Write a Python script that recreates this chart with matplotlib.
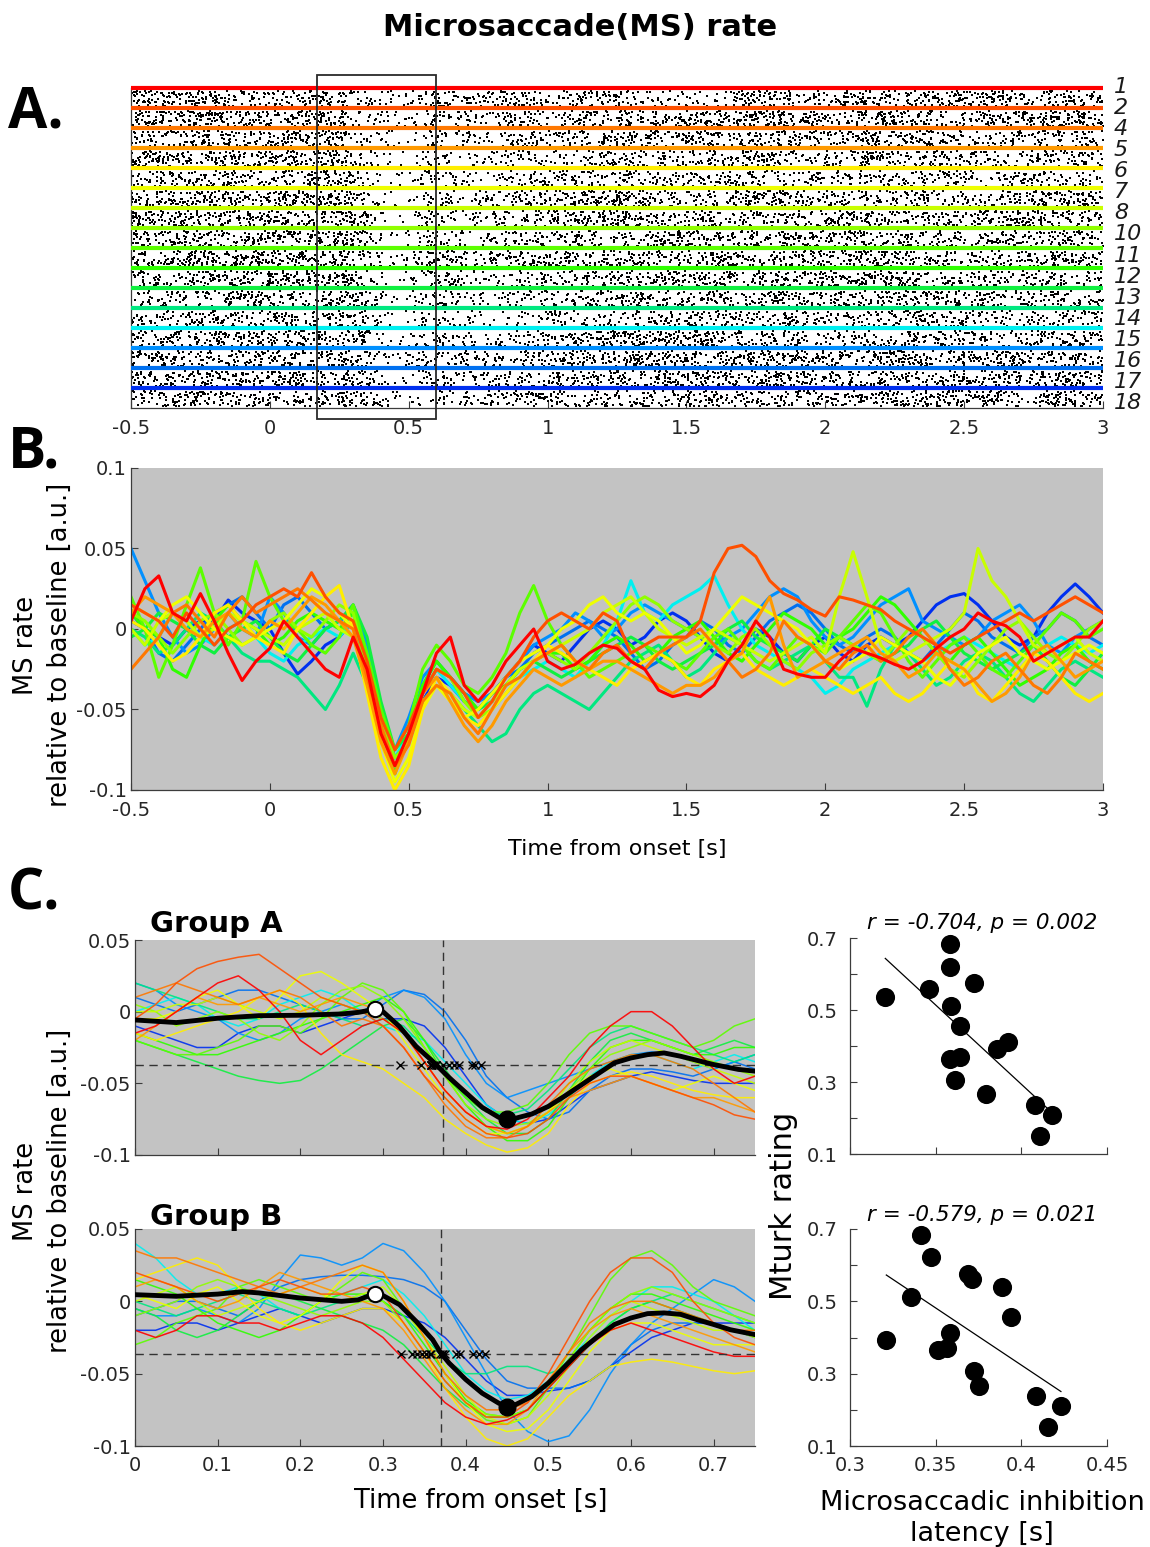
import numpy as np
import matplotlib
matplotlib.use('Agg')
import matplotlib.pyplot as plt
from matplotlib.patches import Rectangle

plt.rcParams['font.family'] = ['DejaVu Sans']
plt.rcParams['axes.unicode_minus'] = False

W, H = 1150, 1547

# subjects, top to bottom in the raster
subject_ids = ['1', '2', '4', '5', '6', '7', '8', '10', '11', '12', '13', '14', '15', '16', '17', '18']
subject_colors = ['#ff0000', '#ff5000', '#ff7800', '#ff9a00', '#ffee00', '#eeff00', '#c8ff00', '#90ff00',
                  '#5cff00', '#30ff00', '#10f040', '#00e880', '#00f0f0', '#0090ff', '#0070f0', '#0030f0']

# panel B: MS rate relative to baseline (x 1e-3), one value every 0.05 s from -0.5 to 3 s
rate_t = np.round(np.arange(-0.5, 3.0001, 0.05), 3)
rate_b = [
    [5, 25, 33, 10, 5, 22, 5, -15, -32, -20, -12, 5, -5, -15, -25, -30, -5,
     -25, -65, -85, -65, -40, -15, -5, -35, -45, -35, -20, -10, 0, -20,
     -25, -22, -15, -10, -12, -20, -25, -38, -42, -40, -42, -35, -20, -10, 5, -5, -25, -28, -30, -30,
     -20, -12, -15, -18, -22, -25, -20, -12, -5, 0, 10, 5, 2, -5, -20, -15, -10, -5, -5, 5],
    [15, 10, 5, -5, 10, 0, -10, 0, 5, 15, 20, 25, 20, 35, 20, 10, 5,
     -20, -55, -75, -60, -40, -25, -30, -40, -55, -45, -30, -20, -5, 5,
     10, 5, 0, 10, 5, -15, -10, -5, -5, -5, 5, 35, 50, 52, 45, 30, 22, 18, 12, 8,
     20, 18, 15, 12, 5, 0, -5, -10, -15, -10, -5, 0, 5, 10, 5, 10, 15, 20, 15, 10],
    [-25, -15, -5, 10, 15, 5, -5, 10, 20, 10, 15, 20, 25, 18, 10, 5, 0,
     -30, -60, -85, -72, -45, -35, -40, -55, -65, -50, -35, -30, -20, -15,
     -10, -20, -25, -15, -10, -20, -25, -15, -10, -5, 0, -10, -20, -30, -25, -15, 5, -5, -10, -20,
     -25, -15, -10, -20, -15, -5, 0, -10, -25, -35, -30, -20, -15, -25, -35, -40, -30, -15, -20, -25],
    [10, 20, 15, 10, 0, -5, 5, 10, 0, -5, 5, 0, 10, 20, 15, 5, -5,
     -35, -70, -90, -70, -40, -30, -45, -60, -70, -60, -45, -35, -25, -30,
     -35, -30, -25, -20, -20, -25, -30, -35, -40, -35, -35, -30, -20, -15, 5, 20, -10, -30, -25, -20,
     -15, -10, -5, -15, -20, -30, -25, -15, -20, -25, -35, -45, -40, -30, -15, -10, -20, -30, -25, -20],
    [5, 0, -10, -20, -15, -5, 10, 15, 5, -5, -10, -15, 0, 10, 20, 27, 0,
     -40, -80, -100, -85, -50, -30, -40, -55, -60, -50, -40, -30, -20, -10,
     -15, -20, -25, -30, -35, -25, -20, -15, -20, -30, -35, -25, -20, -15, -25, -30, -35, -30, -25, -30,
     -35, -40, -35, -30, -40, -45, -40, -30, -20, -25, -40, -45, -35, -25, -15, -20, -30, -40, -45, -40],
    [15, 10, 5, 15, 20, 10, 0, -5, -10, -5, 0, 5, 15, 25, 20, 10, 0,
     -35, -70, -95, -80, -50, -35, -45, -55, -50, -40, -30, -20, -15, -10,
     0, 5, 15, 20, 10, 5, 10, 5, -5, -15, -10, 0, 10, 20, 15, 10, 5, 0, -10, -20,
     -25, -20, -15, -5, -10, -15, -20, -30, -35, -25, -15, -10, -5, -15, -20, -25, -20, -15, -10, -15],
    [0, -10, 5, 10, 5, -5, 0, 10, 5, 0, -5, -10, 0, 5, 10, 0, -5,
     -30, -65, -85, -70, -45, -35, -40, -50, -55, -45, -35, -25, -20, -15,
     -10, -5, 0, 10, 15, 20, 10, 0, -5, -10, -5, 0, -5, -10, -15, -20, -15, -10, -5, -15,
     20, 48, 20, -10, -20, -15, -10, -5, 0, 10, 50, 30, 20, 5, -10, -15, -10, -5, -15, -20],
    [10, 5, -5, -15, -5, 5, 10, 0, -10, -5, 5, 10, 0, -5, 5, 15, 10,
     -25, -55, -80, -70, -40, -25, -30, -45, -55, -50, -40, -30, -20, -15,
     -20, -25, -15, -5, 5, 15, 20, 15, 5, 0, -5, -10, -15, -5, 0, -10, -20, -25, -15, -10,
     -5, -10, -15, -20, -10, 0, -5, -15, -25, -30, -20, -10, 0, 5, -5, -15, -20, -10, 0, 5],
    [20, 0, -30, -10, 15, 38, 10, -10, 5, 42, 20, 5, 0, -10, -15, -5, 15,
     -15, -50, -75, -60, -25, -10, -20, -35, -40, -30, -15, 10, 27, 5,
     -10, -20, -30, -25, -20, -15, -10, -15, -20, -25, -15, -5, 0, -10, -20, -25, -15, -5, -10, -15,
     -5, 5, 15, 10, -5, -20, -30, -20, -10, -5, -15, -25, -30, -20, -10, 0, 10, 5, -5, 0],
    [10, 0, -5, -25, -30, -10, 5, 15, 5, 0, -10, -5, 5, 10, 5, 0, 10,
     -20, -60, -90, -65, -35, -20, -30, -40, -50, -40, -35, -25, -20, -15,
     -15, -25, -20, -10, -5, -10, -20, -15, -5, 0, 5, -5, -15, -20, -10, 0, 10, 5, 0, -10,
     -5, 0, 10, 20, 15, 5, -5, -15, -20, -10, -5, -15, -25, -35, -30, -25, -15, -10, -20, -25],
    [-5, 0, 10, 5, 0, -10, -15, -5, 0, 5, -5, -15, -20, -10, 0, 5, 15,
     -5, -45, -75, -65, -35, -20, -30, -45, -50, -45, -35, -25, -20, -25,
     -30, -25, -20, -15, -10, -5, -10, -20, -25, -20, -15, -10, 0, 5, -5, -10, -15, -20, -10, 0,
     -5, -10, -15, -20, -15, -10, 0, 5, -5, -15, -20, -25, -20, -15, -10, -20, -30, -35, -25, -15],
    [0, -5, -15, -10, 0, 10, 5, -5, -15, -20, -20, -25, -30, -40, -50, -35, -15,
     -35, -60, -80, -70, -45, -35, -40, -50, -60, -70, -65, -50, -40, -35,
     -40, -45, -50, -40, -30, -20, -15, -10, -20, -30, -25, -15, -5, -10, -20, -25, -20, -15, -10, -20,
     -30, -30, -48, -25, -10, -15, -25, -35, -30, -20, -15, -20, -30, -40, -45, -35, -25, -20, -25, -30],
    [0, -10, -5, 10, 5, -5, -10, 0, 5, -5, -15, -20, -10, -5, 0, -5, 5,
     -25, -60, -80, -65, -40, -25, -35, -45, -50, -45, -35, -30, -25, -20,
     -25, -30, -20, -10, 5, 30, 10, 5, 15, 20, 25, 33, 15, 0, -10, -15, -20, -25, -30, -40,
     -35, -25, -20, -15, -10, -15, -20, -15, -10, -5, -10, -15, -20, -25, -15, -10, -5, -10, -15, -10],
    [50, 30, 10, -5, -15, -10, 0, 10, 0, -5, 20, 10, -5, -10, 0, 5, 15,
     -10, -55, -75, -55, -30, -20, -30, -40, -45, -40, -30, -20, -10, -5,
     0, 10, 5, -5, 0, 10, 15, 10, 5, 0, -5, -10, -5, 0, 10, 20, 25, 20, 5, -5,
     -10, -5, 5, 15, 20, 25, 5, 0, -5, -10, -5, 5, 10, 15, 5, -10, -15, -5, 0, 5],
    [5, 0, -15, -20, -10, 0, 10, 15, 20, 10, 0, 15, 20, 10, 0, 5, 10,
     -15, -55, -80, -70, -40, -25, -30, -40, -45, -40, -30, -25, -15, -10,
     -5, 0, 5, 0, -5, -15, -25, -20, -10, -5, 5, 0, -10, -15, -5, 5, 10, 15, 10, 0,
     -10, -15, -5, 0, -5, -15, -20, -10, 0, 10, 5, -5, -10, -15, -5, 0, 10, 5, -5, -10],
    [10, 0, -5, -10, 0, 5, 5, 18, 10, 5, 0, -15, -28, -20, -10, -5, 5,
     -10, -50, -80, -70, -45, -30, -35, -45, -50, -40, -30, -20, -10, -15,
     -20, -10, 0, 5, 0, -10, -5, 5, 10, 5, -5, -15, -20, -10, 0, -5, -15, -20, -10, -5,
     -15, -20, -10, -5, -10, -5, 5, 15, 20, 22, 15, 5, -5, -10, -5, 10, 20, 28, 20, 10],
]

# panel C: per subject rate (x 1e-3) every 0.025 s from 0 to 0.75 s
grp_t = np.round(np.arange(0, 0.7501, 0.025), 3)
grp_a = [
    [-15, -10, 0, 10, 20, 25, 15, 0, -20, -30, -20, -10, -5, -15, -35, -55, -70, -80, -82, -75, -60, -45, -25, -10, 0, 0, -10, -25, -40, -50, -45],
    [-5, 5, 20, 30, 35, 38, 40, 30, 20, 10, 5, 0, -10, -25, -45, -60, -75, -85, -88, -85, -75, -60, -50, -45, -45, -50, -55, -60, -65, -72, -75],
    [10, 15, 20, 15, 10, 5, 10, 15, 10, 0, -10, -5, -10, -25, -45, -65, -80, -88, -88, -80, -65, -50, -40, -35, -30, -30, -35, -40, -50, -60, -70],
    [-20, -10, 0, 10, 5, 5, 10, 5, 0, 5, 10, 5, 0, -15, -35, -55, -70, -80, -85, -80, -70, -60, -55, -50, -45, -50, -55, -60, -60, -65, -70],
    [-15, -20, -15, -10, -5, 0, 10, 15, 5, -15, -30, -35, -40, -50, -60, -75, -85, -93, -98, -95, -85, -65, -50, -45, -42, -45, -50, -55, -58, -60, -60],
    [-5, -5, 0, 10, 15, 5, -5, 10, 25, 28, 20, 10, 0, -20, -40, -60, -75, -85, -85, -80, -70, -55, -45, -40, -45, -50, -55, -50, -45, -50, -55],
    [0, 0, 5, 5, 10, 5, 0, -5, 0, 10, 5, 0, -5, -15, -35, -55, -70, -80, -85, -80, -70, -50, -35, -25, -20, -25, -30, -35, -40, -45, -50],
    [5, 0, -10, -5, 0, -5, -15, -20, -10, 5, 15, 18, 10, -5, -25, -45, -65, -75, -80, -78, -70, -55, -40, -30, -25, -20, -25, -30, -35, -40, -45],
    [-20, -25, -30, -30, -25, -20, -10, -10, -15, -5, 10, 20, 15, 0, -25, -45, -60, -70, -70, -65, -50, -30, -15, -10, -10, -15, -20, -25, -20, -10, -5],
    [-15, -20, -25, -30, -30, -25, -20, -15, -10, -5, 0, 5, 10, 0, -20, -45, -65, -80, -90, -90, -80, -60, -40, -25, -20, -20, -25, -30, -30, -25, -25],
    [-20, -25, -30, -35, -40, -45, -48, -50, -48, -40, -30, -20, -10, -5, -20, -40, -60, -75, -85, -85, -75, -55, -35, -20, -15, -20, -25, -30, -25, -20, -25],
    [20, 15, 10, 5, 0, -5, -5, 0, 5, 0, -5, -10, -5, -10, -25, -45, -60, -70, -72, -68, -55, -40, -25, -15, -10, -15, -20, -25, -30, -35, -30],
    [0, 5, 10, 5, -5, -10, -5, 5, 10, 15, 10, 0, -10, -15, -20, -35, -50, -65, -75, -78, -72, -60, -45, -35, -30, -30, -35, -40, -35, -30, -35],
    [20, 15, 5, 0, -5, -15, -20, -15, -5, 0, 5, 0, 10, 15, 10, -5, -30, -50, -60, -55, -50, -45, -40, -35, -30, -28, -30, -35, -40, -35, -30],
    [10, 5, 0, 5, 10, 15, 15, 10, 5, 0, -5, -5, 5, 15, 12, 0, -20, -45, -60, -70, -75, -70, -55, -45, -40, -40, -42, -45, -40, -35, -40],
    [-10, -15, -20, -25, -25, -15, -10, -10, -15, -10, -5, 0, -5, -5, -10, -25, -45, -65, -75, -78, -75, -65, -55, -50, -45, -42, -45, -48, -50, -50, -50],
]
grp_b = [
    [-20, -25, -20, -10, -10, -15, -15, -20, -15, -10, -10, -15, -25, -40, -55, -70, -80, -85, -82, -75, -60, -45, -30, -20, -15, -20, -25, -30, -35, -38, -38],
    [20, 15, 10, 5, 0, 5, 10, 15, 10, 5, 5, 10, 5, -15, -35, -55, -70, -80, -80, -70, -50, -25, 0, 20, 30, 30, 20, 0, -15, -25, -30],
    [35, 30, 30, 25, 20, 15, 10, 5, 10, 15, 20, 25, 20, 0, -25, -50, -65, -75, -75, -70, -55, -35, -15, -5, 0, 0, -5, -10, -15, -20, -20],
    [10, 15, 10, 0, -5, 0, 10, 20, 15, 10, 5, 0, -5, -20, -40, -60, -75, -85, -85, -75, -55, -35, -20, -10, -5, -10, -15, -20, -25, -30, -35],
    [15, 20, 25, 30, 25, 10, -5, -15, -20, -15, -10, -5, -5, -15, -35, -60, -80, -95, -100, -95, -80, -65, -55, -45, -42, -40, -42, -45, -48, -50, -48],
    [5, 0, -5, 5, 10, 0, -10, -15, -10, 0, 15, 25, 20, 0, -25, -50, -70, -85, -90, -88, -75, -55, -35, -20, -15, -15, -20, -25, -30, -30, -30],
    [0, 5, 10, 0, -10, -5, 0, 5, 10, 5, 0, 5, 10, -5, -25, -45, -65, -80, -85, -80, -65, -45, -25, -10, 0, -5, -10, -15, -20, -20, -25],
    [-10, -5, 0, 10, 15, 10, 5, 0, -5, -10, -5, 0, 0, -15, -35, -55, -70, -78, -80, -75, -60, -40, -20, -5, 5, 10, 5, 0, -5, -10, -15],
    [-30, -25, -15, -10, -5, 10, 15, 10, 5, 0, 10, 20, 15, -5, -25, -50, -70, -82, -85, -80, -60, -35, -10, 15, 30, 35, 25, 10, 0, -5, -10],
    [15, 10, 5, -5, -15, -20, -25, -20, -10, 0, 5, 5, 0, -10, -30, -50, -68, -78, -80, -75, -60, -40, -20, -5, 5, 5, 0, -5, -10, -15, -20],
    [-5, -10, -20, -25, -20, -10, 0, 5, 0, -5, -10, -15, -20, -30, -45, -60, -72, -80, -80, -75, -60, -45, -30, -15, -5, 0, -5, -10, -15, -20, -25],
    [0, -5, -10, -5, 0, 5, 0, -5, -10, -5, 0, 5, 0, -10, -25, -40, -50, -50, -45, -45, -50, -45, -30, -15, -5, 0, 5, 0, -5, -10, -15],
    [40, 30, 15, 5, 5, 10, 5, -5, -10, 0, 5, 10, 15, 5, -10, -30, -50, -62, -68, -65, -55, -40, -25, -10, 0, 10, 10, 5, 0, -10, -20],
    [-5, -10, -10, -5, -10, -15, -5, 15, 32, 30, 25, 30, 40, 35, 20, 0, -25, -50, -75, -90, -97, -93, -75, -50, -30, -15, -5, 5, 15, 10, 0],
    [-10, -5, 0, 0, -5, -10, 0, 10, 15, 17, 18, 18, 17, 15, 10, 0, -20, -40, -55, -60, -60, -60, -55, -45, -30, -20, -15, -15, -15, -20, -25],
    [-20, -20, -15, -15, -20, -15, -10, -5, -10, -15, -10, -5, -5, -10, -15, -25, -40, -55, -65, -65, -62, -60, -55, -45, -35, -25, -20, -15, -15, -15, -15],
]

# group means
mean_a_t = [0, 0.05, 0.1, 0.15, 0.2, 0.25, 0.27, 0.29, 0.30, 0.32, 0.34, 0.36, 0.37, 0.38, 0.40, 0.42,
            0.44, 0.45, 0.46, 0.48, 0.50, 0.52, 0.55, 0.58, 0.60, 0.62, 0.64, 0.66, 0.70, 0.73, 0.75]
mean_a = [-0.0058, -0.0076, -0.0046, -0.0028, -0.0025, -0.0016, -0.0005, 0.0016, 0.0, -0.0104, -0.0242,
          -0.0346, -0.0403, -0.046, -0.0564, -0.0668, -0.0737, -0.0749, -0.0744, -0.0714, -0.0661, -0.0588,
          -0.0472, -0.0357, -0.0323, -0.030, -0.0288, -0.0311, -0.0369, -0.0403, -0.0415]
mean_b_t = [0, 0.05, 0.1, 0.13, 0.15, 0.2, 0.25, 0.27, 0.29, 0.30, 0.32, 0.34, 0.36, 0.37, 0.38, 0.40, 0.42,
            0.44, 0.45, 0.46, 0.48, 0.50, 0.52, 0.54, 0.56, 0.58, 0.60, 0.62, 0.64, 0.66, 0.68, 0.70, 0.72, 0.75]
mean_b = [0.0046, 0.0035, 0.005, 0.0067, 0.0058, 0.0023, 0.0, 0.001, 0.0053, 0.004, -0.0023, -0.0138, -0.0265,
          -0.0358, -0.0427, -0.054, -0.0635, -0.0704, -0.0727, -0.0715, -0.0658, -0.0565, -0.045, -0.0335,
          -0.0242, -0.016, -0.0115, -0.0085, -0.008, -0.009, -0.0127, -0.016, -0.0196, -0.023]

# inhibition latency [s] and Mturk rating per subject
latency_a = [0.3206, 0.3463, 0.3584, 0.3586, 0.3722, 0.3592, 0.3643, 0.3584, 0.3643, 0.3611, 0.3793, 0.3860,
             0.3924, 0.4081, 0.4181, 0.4110]
rating_a = [0.5375, 0.5587, 0.6834, 0.6188, 0.5754, 0.5116, 0.4553, 0.3648, 0.3694, 0.3048, 0.2679, 0.3906,
            0.4110, 0.2374, 0.2078, 0.1506]
latency_b = [0.3413, 0.3475, 0.3687, 0.3712, 0.3885, 0.3356, 0.3937, 0.3212, 0.3583, 0.3515, 0.3567, 0.3723,
             0.3750, 0.4083, 0.4231, 0.4158]
rating_b = [0.6843, 0.6213, 0.5769, 0.5611, 0.5398, 0.5130, 0.4565, 0.3926, 0.4130, 0.3667, 0.3704, 0.3083,
            0.2667, 0.2370, 0.2093, 0.1519]
stats_a = 'r = -0.704, p = 0.002'
stats_b = 'r = -0.579, p = 0.021'

window = (0.17, 0.60)   # highlighted window in the raster

fig = plt.figure(figsize=(W / 100, H / 100), dpi=100)
grey = '#3c3c3c'


def ax_px(left, top, right, bottom, **kw):
    return fig.add_axes([left / W, 1 - bottom / H, (right - left) / W, (bottom - top) / H], **kw)


def txt(x, y, s, **kw):
    fig.text(x / W, 1 - y / H, s, **kw)


def style(ax, size=14):
    for s in ['top', 'right']:
        ax.spines[s].set_visible(False)
    for s in ['left', 'bottom']:
        ax.spines[s].set_color(grey)
        ax.spines[s].set_linewidth(0.9)
    ax.tick_params(which='both', direction='in', length=5, width=0.8, colors=grey,
                   labelcolor='#262626', labelsize=size)


txt(580, 28, 'Microsaccade(MS) rate', ha='center', va='center', fontsize=22, fontweight='bold')
for lab, yb in [('A.', 127), ('B.', 467), ('C.', 910)]:
    txt(8, yb, lab, ha='left', va='baseline', fontsize=41, fontweight='bold', family=['Open Sans', 'DejaVu Sans'])

# ---- A: raster
axA = ax_px(131, 88, 1103, 408)
style(axA)
axA.set_xlim(-0.5, 3)
axA.set_ylim(0, 16)
axA.set_yticks([])
rng = np.random.default_rng(7)
for r in range(16):
    cand = rng.uniform(-0.5, 3, 2300)
    dens = np.clip(1 + np.interp(cand, rate_t, np.array(rate_b[r]) / 1000) / 0.1, 0.12, None)
    keep = rng.uniform(0, 2.1, cand.size) < dens
    yy = rng.uniform(15 - r + 0.08, 16 - r - 0.15, cand.size)
    axA.scatter(cand[keep], yy[keep], s=3.5, marker='s', c='k', linewidths=0, zorder=2)
    axA.plot([-0.5, 3], [16 - r, 16 - r], color=subject_colors[r], lw=3, solid_capstyle='butt',
             clip_on=False, zorder=3)
axA.add_patch(Rectangle((window[0], -0.55), window[1] - window[0], 17.2, fill=False, ec='#2a2a2a',
                        lw=1.3, clip_on=False, zorder=4))
xt = [-0.5, 0, 0.5, 1, 1.5, 2, 2.5, 3]
xt_lab = ['-0.5', '0', '0.5', '1', '1.5', '2', '2.5', '3']
axA.set_xticks(xt)
axA.set_xticklabels(xt_lab)
axA.tick_params(axis='x', pad=8)
for i, sid in enumerate(subject_ids):
    txt(1114, 87 + i * (403 - 87) / 15, sid, ha='left', va='center', fontsize=16, style='italic',
        color='#1a1a1a')

# ---- B: rate traces
axB = ax_px(131, 468, 1103, 790, facecolor='#c3c3c3')
style(axB)
for r in reversed(range(16)):
    axB.plot(rate_t, np.array(rate_b[r]) / 1000, color=subject_colors[r], lw=2.2)
axB.set_xlim(-0.5, 3)
axB.set_ylim(-0.1, 0.1)
axB.set_xticks(xt)
axB.set_xticklabels(xt_lab)
axB.set_yticks([-0.1, -0.05, 0, 0.05, 0.1])
axB.set_yticklabels(['-0.1', '-0.05', '0', '0.05', '0.1'])
axB.tick_params(axis='x', pad=8)
axB.tick_params(axis='y', pad=3)
txt(617, 855, 'Time from onset [s]', ha='center', va='baseline', fontsize=16)
for yc in [645, 1191]:
    txt(26, yc, 'MS rate', ha='center', va='center', rotation=90, fontsize=18.5)
    txt(60, yc, 'relative to baseline [a.u.]', ha='center', va='center', rotation=90, fontsize=18.5)

# ---- C: group traces
groups = [
    (ax_px(135, 940, 755, 1155, facecolor='#c3c3c3'), grp_a, mean_a_t, mean_a, latency_a, 'Group A', 932),
    (ax_px(135, 1229, 755, 1446, facecolor='#c3c3c3'), grp_b, mean_b_t, mean_b, latency_b, 'Group B', 1225),
]
for k, (ax, traces, mt, mv, lat, name, ybase) in enumerate(groups):
    style(ax)
    mt = np.array(mt)
    mv = np.array(mv)
    for r in reversed(range(16)):
        ax.plot(grp_t, np.array(traces[r]) / 1000, color=subject_colors[r], lw=1.1, alpha=0.9)
    i_min = int(np.argmin(mv))
    cand = np.where((mt >= 0.2) & (np.arange(mt.size) < i_min))[0]
    i_pk = cand[np.argmax(mv[cand])]
    thr = mv[i_min] / 2
    dash = (0, (6, 4))
    ax.axhline(thr, color='#333333', lw=1, ls=dash, zorder=3)
    ax.axvline(np.mean(lat), color='#333333', lw=1, ls=dash, zorder=3)
    ax.plot(lat, [thr] * len(lat), 'x', color='k', ms=6, mew=1, zorder=4)
    ax.plot(mt, mv, color='k', lw=3.5, zorder=5)
    ax.plot(mt[i_pk], mv[i_pk], 'o', mfc='white', mec='k', ms=11, mew=1.5, zorder=6)
    ax.plot(mt[i_min], mv[i_min], 'o', color='k', ms=12, zorder=6)
    ax.set_xlim(0, 0.75)
    ax.set_ylim(-0.1, 0.05)
    ax.set_xticks([0, 0.1, 0.2, 0.3, 0.4, 0.5, 0.6, 0.7])
    if k == 0:
        ax.set_xticklabels([])
    else:
        ax.set_xticklabels(['0', '0.1', '0.2', '0.3', '0.4', '0.5', '0.6', '0.7'])
    ax.set_yticks([-0.1, -0.05, 0, 0.05])
    ax.set_yticklabels(['-0.1', '-0.05', '0', '0.05'])
    ax.tick_params(axis='x', pad=7)
    ax.tick_params(axis='y', pad=3)
    txt(150, ybase, name, ha='left', va='baseline', fontsize=21, fontweight='bold')
txt(481, 1508, 'Time from onset [s]', ha='center', va='baseline', fontsize=18.5)

# ---- C: latency vs rating
scat = [
    (ax_px(850, 938, 1107, 1154), latency_a, rating_a, stats_a, 929),
    (ax_px(850, 1229, 1107, 1446), latency_b, rating_b, stats_b, 1221),
]
for k, (ax, lat, rat, st, ys) in enumerate(scat):
    style(ax)
    lat = np.array(lat)
    rat = np.array(rat)
    ax.scatter(lat, rat, s=190, c='k', linewidths=0, clip_on=False, zorder=3)
    fit = np.polyfit(lat, rat, 1)
    xs = np.array([lat.min(), lat.max()])
    ax.plot(xs, np.polyval(fit, xs), color='k', lw=0.9, zorder=2)
    ax.set_xlim(0.3, 0.45)
    ax.set_ylim(0.1, 0.7)
    ax.set_xticks([0.3, 0.35, 0.4, 0.45])
    if k == 0:
        ax.set_xticklabels([])
    else:
        ax.set_xticklabels(['0.3', '0.35', '0.4', '0.45'])
    ax.set_yticks([0.1, 0.3, 0.5, 0.7])
    ax.set_yticklabels(['0.1', '0.3', '0.5', '0.7'])
    ax.set_yticks([0.2, 0.4, 0.6], minor=True)
    ax.tick_params(axis='x', pad=7)
    ax.tick_params(axis='y', pad=9)
    txt(982, ys, st, ha='center', va='baseline', fontsize=15.5, style='italic')
txt(783, 1206, 'Mturk rating', ha='center', va='center', rotation=90, fontsize=22)
txt(982, 1510, 'Microsaccadic inhibition', ha='center', va='baseline', fontsize=19.5)
txt(982, 1541, 'latency [s]', ha='center', va='baseline', fontsize=19.5)

fig.savefig('out.png', dpi=100)
